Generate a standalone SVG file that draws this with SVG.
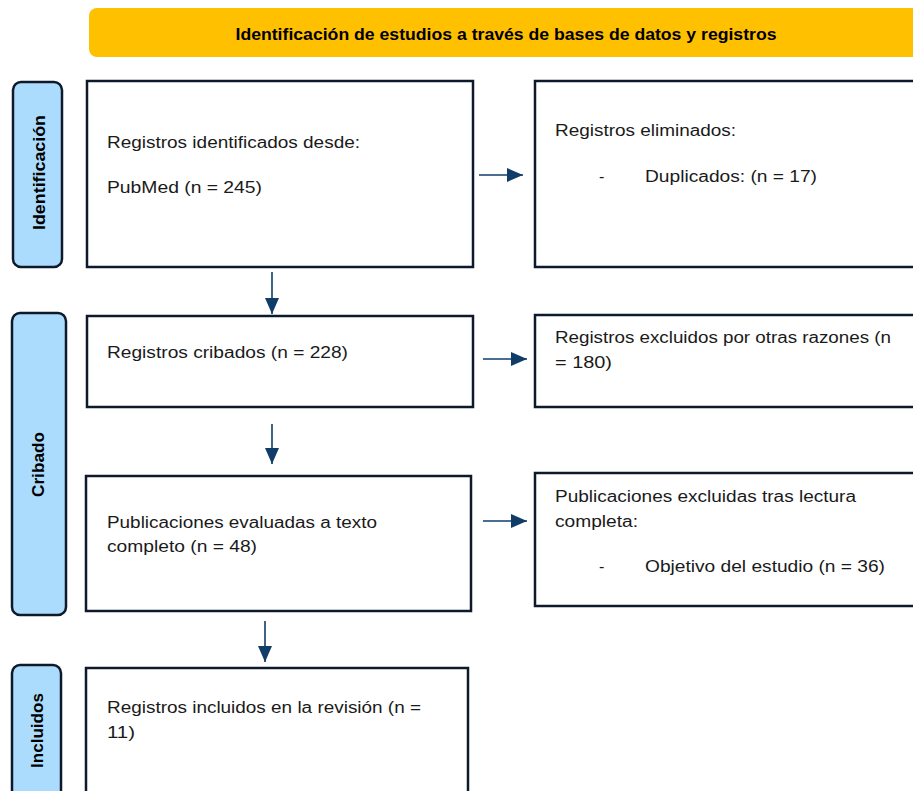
<svg xmlns="http://www.w3.org/2000/svg" width="913" height="791" viewBox="0 0 913 791">
<defs>
<style>
.box{fill:#fff;stroke:#0e1a2b;stroke-width:2.5}
.side{fill:#acdcfd;stroke:#0e1a2b;stroke-width:2.5}
.t{font-family:"Liberation Sans",Arial,sans-serif;font-size:16px;fill:#1a1a1a}
.s{font-family:"Liberation Sans",Arial,sans-serif;font-size:17px;font-weight:bold;fill:#000}
.title{font-family:"Liberation Sans",Arial,sans-serif;font-size:17px;font-weight:bold;fill:#000}
.c{stroke:#0f3d68;stroke-width:1.6;fill:none}
</style>
<marker id="ah" viewBox="0 0 16 14" refX="16" refY="7" markerWidth="16" markerHeight="14" markerUnits="userSpaceOnUse" orient="auto">
<path d="M0,0 L16,7 L0,14 z" fill="#0f3d68"/>
</marker>
</defs>
<rect width="913" height="791" fill="#fff"/>
<g id="banner">
<rect x="89" y="8" width="840" height="49" rx="8" fill="#ffc000"/>
<text class="title" x="506" y="40" text-anchor="middle" textLength="541" lengthAdjust="spacingAndGlyphs">Identificación de estudios a través de bases de datos y registros</text>
</g>
<g id="side-identificacion">
<rect class="side" x="13" y="82" width="49" height="185" rx="8"/>
<text class="s" transform="translate(45,172.5) rotate(-90)" text-anchor="middle" textLength="115" lengthAdjust="spacingAndGlyphs">Identificación</text>
</g>
<g id="side-cribado">
<rect class="side" x="12" y="313" width="54" height="302" rx="8"/>
<text class="s" transform="translate(44,464.5) rotate(-90)" text-anchor="middle" textLength="65" lengthAdjust="spacingAndGlyphs">Cribado</text>
</g>
<g id="side-incluidos">
<rect class="side" x="12" y="665" width="49" height="140" rx="8"/>
<text class="s" transform="translate(43,730.5) rotate(-90)" text-anchor="middle" textLength="75" lengthAdjust="spacingAndGlyphs">Incluidos</text>
</g>
<g id="n-identificados">
<rect class="box" x="87" y="81" width="386" height="186"/>
<text class="t" x="107" y="148" textLength="253" lengthAdjust="spacingAndGlyphs">Registros identificados desde:</text>
<text class="t" x="107" y="193" textLength="155" lengthAdjust="spacingAndGlyphs">PubMed (n = 245)</text>
</g>
<g id="n-eliminados">
<rect class="box" x="535" y="81" width="400" height="186"/>
<text class="t" x="555" y="136" textLength="181" lengthAdjust="spacingAndGlyphs">Registros eliminados:</text>
<text class="t" x="599" y="182">-</text>
<text class="t" x="645" y="182" textLength="172" lengthAdjust="spacingAndGlyphs">Duplicados: (n = 17)</text>
</g>
<g id="n-cribados">
<rect class="box" x="87" y="316" width="386" height="91"/>
<text class="t" x="107" y="358" textLength="241" lengthAdjust="spacingAndGlyphs">Registros cribados (n = 228)</text>
</g>
<g id="n-excluidos">
<rect class="box" x="535" y="315" width="400" height="92"/>
<text class="t" x="555" y="343" textLength="336" lengthAdjust="spacingAndGlyphs">Registros excluidos por otras razones (n</text>
<text class="t" x="555" y="368" textLength="57" lengthAdjust="spacingAndGlyphs">= 180)</text>
</g>
<g id="n-evaluadas">
<rect class="box" x="86" y="476" width="385" height="135"/>
<text class="t" x="107" y="528" textLength="270" lengthAdjust="spacingAndGlyphs">Publicaciones evaluadas a texto</text>
<text class="t" x="107" y="552" textLength="150" lengthAdjust="spacingAndGlyphs">completo (n = 48)</text>
</g>
<g id="n-excluidas-lectura">
<rect class="box" x="535" y="473" width="400" height="133"/>
<text class="t" x="555" y="502" textLength="301" lengthAdjust="spacingAndGlyphs">Publicaciones excluidas tras lectura</text>
<text class="t" x="555" y="527" textLength="83" lengthAdjust="spacingAndGlyphs">completa:</text>
<text class="t" x="599" y="572">-</text>
<text class="t" x="645" y="572" textLength="240" lengthAdjust="spacingAndGlyphs">Objetivo del estudio (n = 36)</text>
</g>
<g id="n-incluidos">
<rect class="box" x="86" y="668" width="382" height="140"/>
<text class="t" x="107" y="713" textLength="314" lengthAdjust="spacingAndGlyphs">Registros incluidos en la revisión (n =</text>
<text class="t" x="107" y="738" textLength="28" lengthAdjust="spacingAndGlyphs">11)</text>
</g>
<g id="connectors">
<line class="c" x1="272" y1="272" x2="272" y2="314" marker-end="url(#ah)"/>
<line class="c" x1="272" y1="424" x2="272" y2="464" marker-end="url(#ah)"/>
<line class="c" x1="265" y1="621" x2="265" y2="662" marker-end="url(#ah)"/>
<line class="c" x1="479" y1="175" x2="523" y2="175" marker-end="url(#ah)"/>
<line class="c" x1="483" y1="359" x2="527" y2="359" marker-end="url(#ah)"/>
<line class="c" x1="483" y1="521" x2="527" y2="521" marker-end="url(#ah)"/>
</g>
</svg>
